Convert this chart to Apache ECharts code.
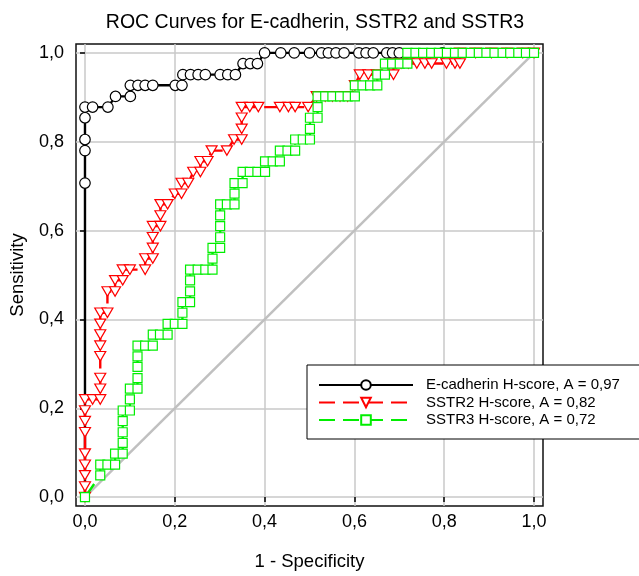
<!DOCTYPE html>
<html>
<head>
<meta charset="utf-8">
<script src="https://cdn.jsdelivr.net/npm/echarts@6/dist/echarts.min.js"></script>
<style>
html,body{margin:0;padding:0;background:#fff;}
#chart{width:639px;height:576px;}
</style>
</head>
<body>
<div id="chart"></div>
<script>
// ---- data ----
var tickValues = [0, 0.2, 0.4, 0.6, 0.8, 1.0];
var tickLabels = ['0,0', '0,2', '0,4', '0,6', '0,8', '1,0'];
var seriesNames = ['E-cadherin H-score, A = 0,97', 'SSTR2 H-score, A = 0,82', 'SSTR3 H-score, A = 0,72'];

var diagX = [0, 1];
var diagY = [0, 1];

var ecadX = [0, 0, 0, 0, 0, 0, 0.017, 0.051, 0.068, 0.101, 0.101, 0.118, 0.134, 0.151, 0.201, 0.216,
  0.218, 0.235, 0.252, 0.268, 0.301, 0.318, 0.335, 0.352, 0.368, 0.384, 0.400, 0.436, 0.466, 0.500,
  0.527, 0.542, 0.559, 0.577, 0.610, 0.626, 0.642, 0.672, 0.685, 0.700, 0.796, 1.0];
var ecadY = [0, 0.707, 0.780, 0.805, 0.854, 0.878, 0.878, 0.878, 0.902, 0.902, 0.927, 0.927, 0.927, 0.927, 0.927, 0.927,
  0.951, 0.951, 0.951, 0.951, 0.951, 0.951, 0.951, 0.976, 0.976, 0.976, 1, 1, 1, 1,
  1, 1, 1, 1, 1, 1, 1, 1, 1, 1, 1, 1];

var sstr2X = [0, 0, 0, 0, 0, 0, 0, 0, 0, 0.017, 0.034, 0.034, 0.034, 0.034, 0.034, 0.034, 0.034, 0.034, 0.050,
  0.050, 0.067, 0.067, 0.084, 0.084, 0.100, 0.134, 0.134, 0.151, 0.151, 0.151, 0.151, 0.168, 0.168, 0.168, 0.184,
  0.200, 0.215, 0.215, 0.230, 0.241, 0.257, 0.257, 0.273, 0.282, 0.316, 0.332, 0.349, 0.349, 0.349, 0.349, 0.367,
  0.386, 0.434, 0.453, 0.468, 0.497, 0.516, 0.535, 0.551, 0.568, 0.585, 0.601, 0.612, 0.631, 0.650, 0.687, 0.687,
  0.704, 0.720, 0.739, 0.757, 0.772, 0.805, 0.824, 0.835, 0.835, 0.870, 0.905, 0.940, 0.975, 1.0];
var sstr2Y = [0, 0.024, 0.049, 0.073, 0.098, 0.146, 0.171, 0.195, 0.220, 0.220, 0.220, 0.244, 0.268, 0.317, 0.341, 0.366, 0.390, 0.415, 0.415,
  0.463, 0.463, 0.488, 0.488, 0.512, 0.512, 0.512, 0.537, 0.537, 0.561, 0.585, 0.610, 0.610, 0.634, 0.659, 0.659,
  0.683, 0.683, 0.707, 0.707, 0.732, 0.732, 0.756, 0.756, 0.780, 0.780, 0.805, 0.805, 0.829, 0.854, 0.878, 0.878,
  0.878, 0.878, 0.878, 0.878, 0.878, 0.902, 0.902, 0.902, 0.902, 0.902, 0.927, 0.951, 0.951, 0.951, 0.951, 0.976,
  0.976, 0.976, 0.976, 0.976, 0.976, 0.976, 0.976, 0.976, 1, 1, 1, 1, 1, 1];

var sstr3X = [0, 0.034, 0.034, 0.050, 0.067, 0.067, 0.084, 0.084, 0.084, 0.084, 0.084, 0.100, 0.100, 0.100, 0.117,
  0.117, 0.117, 0.117, 0.117, 0.134, 0.151, 0.151, 0.167, 0.184, 0.184, 0.200, 0.217, 0.217, 0.217, 0.234,
  0.234, 0.234, 0.234, 0.251, 0.268, 0.284, 0.284, 0.284, 0.301, 0.301, 0.301, 0.301, 0.301, 0.316, 0.333,
  0.333, 0.333, 0.351, 0.351, 0.367, 0.384, 0.401, 0.401, 0.418, 0.434, 0.434, 0.451, 0.468, 0.468, 0.485,
  0.501, 0.501, 0.501, 0.518, 0.518, 0.518, 0.535, 0.551, 0.568, 0.585, 0.601, 0.601, 0.618, 0.635, 0.651,
  0.651, 0.668, 0.668, 0.684, 0.701, 0.718, 0.718, 0.736, 0.753, 0.771, 0.788, 0.806, 0.824, 0.841, 0.859,
  0.877, 0.894, 0.912, 0.930, 0.947, 0.965, 0.982, 1.0];
var sstr3Y = [0, 0.049, 0.073, 0.073, 0.073, 0.098, 0.098, 0.122, 0.146, 0.171, 0.195, 0.195, 0.220, 0.244, 0.244,
  0.268, 0.293, 0.317, 0.341, 0.341, 0.341, 0.366, 0.366, 0.366, 0.390, 0.390, 0.390, 0.415, 0.439, 0.439,
  0.463, 0.488, 0.512, 0.512, 0.512, 0.512, 0.537, 0.561, 0.561, 0.585, 0.610, 0.634, 0.659, 0.659, 0.659,
  0.683, 0.707, 0.707, 0.732, 0.732, 0.732, 0.732, 0.756, 0.756, 0.756, 0.780, 0.780, 0.780, 0.805, 0.805,
  0.805, 0.829, 0.854, 0.854, 0.878, 0.902, 0.902, 0.902, 0.902, 0.902, 0.902, 0.927, 0.927, 0.927, 0.927,
  0.951, 0.951, 0.976, 0.976, 0.976, 0.976, 1, 1, 1, 1, 1, 1, 1, 1, 1,
  1, 1, 1, 1, 1, 1, 1, 1];

// ---- build ----
function pairs(xs, ys) { return xs.map(function (x, i) { return [x, ys[i]]; }); }
var FONT = '"Liberation Sans", Arial, sans-serif';
var ecadData = pairs(ecadX, ecadY);
ecadData[0] = { value: ecadData[0], symbol: 'none' };
ecadData[ecadData.length - 1] = { value: ecadData[ecadData.length - 1], symbol: 'none' };

function labelFmt(v) {
  for (var i = 0; i < tickValues.length; i++) {
    if (Math.abs(tickValues[i] - v) < 1e-6) return tickLabels[i];
  }
  return '';
}

var axisCommon = {
  type: 'value', min: -0.02, max: 1.02,
  axisLine: { show: false },
  axisTick: { show: true, inside: false, length: 5, customValues: tickValues, lineStyle: { color: '#000', width: 1.5 } },
  axisLabel: { customValues: tickValues, formatter: labelFmt, color: '#000', fontSize: 18, fontFamily: FONT },
  splitLine: { show: true, lineStyle: { color: '#c8c8c8', width: 1.5 } },
  nameLocation: 'middle',
  nameTextStyle: { color: '#000', fontSize: 18.5, fontFamily: FONT }
};

var option = {
  animation: false,
  backgroundColor: '#fff',
  title: {
    text: 'ROC Curves for E-cadherin, SSTR2 and SSTR3',
    left: 310, textAlign: 'center', top: 8,
    textStyle: { fontSize: 19.5, fontWeight: 'normal', color: '#000', fontFamily: FONT }
  },
  grid: { left: 76, right: 96, top: 44, bottom: 66, show: true, borderColor: '#111', borderWidth: 1.5, backgroundColor: 'transparent' },
  xAxis: Object.assign({}, axisCommon, {
    name: '1 - Specificity', nameGap: 46,
    axisLabel: Object.assign({}, axisCommon.axisLabel, { margin: 7 })
  }),
  yAxis: Object.assign({}, axisCommon, {
    name: 'Sensitivity', nameGap: 49,
    axisLabel: Object.assign({}, axisCommon.axisLabel, { margin: 12 })
  }),
  legend: {
    orient: 'vertical', left: 307, top: 365,
    padding: [12, 40, 11, 11],
    backgroundColor: '#fff', borderColor: '#000', borderWidth: 1,
    itemWidth: 94, itemHeight: 12, itemGap: 1.5,
    data: seriesNames,
    textStyle: { color: '#000', fontSize: 15, fontFamily: FONT, lineHeight: 16, padding: [0, 0, 0, 8] }
  },
  series: [
    {
      name: 'diag', type: 'line', data: pairs(diagX, diagY), symbol: 'none', silent: true,
      lineStyle: { color: '#c0c0c0', width: 2.5 }
    },
    {
      name: seriesNames[0], type: 'line', data: ecadData,
      symbol: 'circle', symbolSize: 10.5,
      lineStyle: { color: '#000', width: 2.4 },
      itemStyle: { color: '#fff', borderColor: '#000', borderWidth: 1.2 }
    },
    {
      name: seriesNames[1], type: 'line', data: pairs(sstr2X, sstr2Y),
      symbol: 'triangle', symbolRotate: 180, symbolSize: [11, 9.5],
      lineStyle: { color: '#ff0000', width: 2.4, type: [16, 8] },
      itemStyle: { color: '#fff', borderColor: '#ff0000', borderWidth: 1.2 }
    },
    {
      name: seriesNames[2], type: 'line', data: pairs(sstr3X, sstr3Y),
      symbol: 'rect', symbolSize: 9,
      lineStyle: { color: '#00ee00', width: 2.4, type: [16, 8] },
      itemStyle: { color: '#fff', borderColor: '#00ee00', borderWidth: 1.2 }
    }
  ]
};
var chart = echarts.init(document.getElementById('chart'), null, { renderer: 'canvas' });
chart.setOption(option);
</script>
</body>
</html>
